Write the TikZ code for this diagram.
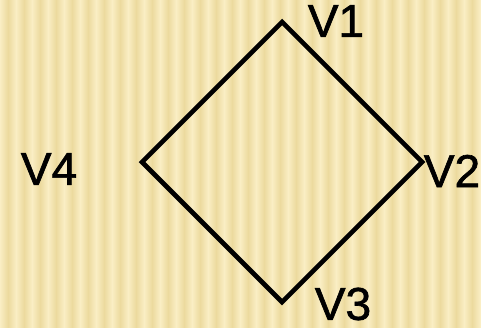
\documentclass[tikz,border=0pt]{standalone}
\usepackage{fontspec}
\setmainfont{Liberation Sans}
\newfontfamily\vfont[FakeBold=1.4]{Liberation Sans}
\usetikzlibrary{math}
\definecolor{paper}{RGB}{245,231,182}
\definecolor{paperdark}{RGB}{236,218,158}
\definecolor{paperlight}{RGB}{250,238,196}

\tikzset{
vlabel/.style={font=\vfont\fontsize{46}{46}\selectfont, inner sep=0pt},
edge/.style={line width=4.6pt, line join=miter}
}

\begin{document}
\begin{tikzpicture}[x=1pt,y=-1pt]

\tikzmath{
\W = 481;
\H = 327;
\cx = 282;
\cy = 162;
\d = 140;
}

\useasboundingbox (0,0) rectangle (\W,\H);
%background:
\begin{scope}
\clip (0,0) rectangle (\W,\H);
\fill[paper] (0,0) rectangle (\W,\H);
\foreach \s in {0,16,...,480}{
\shade[left color=paperlight, right color=paperdark] (\s,0) rectangle (\s+8,\H);
\shade[left color=paperdark, right color=paperlight] (\s+8,0) rectangle (\s+16,\H);
}
\end{scope}

%vertices:
\coordinate (v1) at (\cx,\cy-\d);
\coordinate (v2) at (\cx+\d,\cy);
\coordinate (v3) at (\cx,\cy+\d);
\coordinate (v4) at (\cx-\d,\cy);

%square:
\draw[edge] (v1) -- (v2) -- (v3) -- (v4) -- cycle;

%labels
\node[vlabel] (l1) at (336,21) {V1};
\node[vlabel] (l2) at (452,171) {V2};
\node[vlabel] (l3) at (343,304) {V3};
\node[vlabel] (l4) at (49,169) {V4};

\end{tikzpicture}
\end{document}
